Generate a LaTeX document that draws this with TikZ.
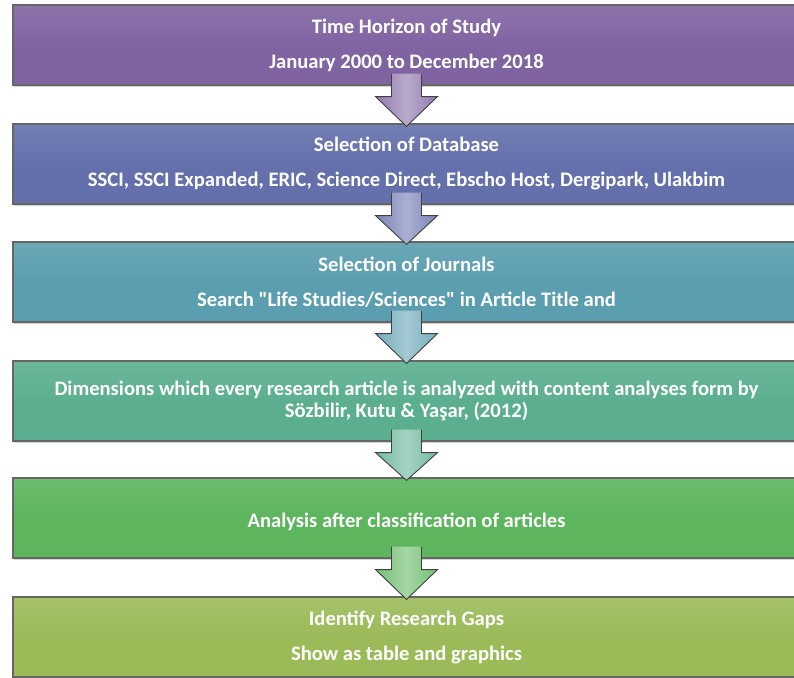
\documentclass[tikz,border=0pt]{standalone}
\usepackage{fontspec}
\setmainfont{Carlito}
\usetikzlibrary{calc,shadows}

\definecolor{stageA}{HTML}{8064A2}
\definecolor{stageB}{HTML}{6470AC}
\definecolor{stageC}{HTML}{5B9EAF}
\definecolor{stageD}{HTML}{5BAF8F}
\definecolor{stageE}{HTML}{5DB55E}
\definecolor{stageF}{HTML}{9BBB59}

\tikzset{
  stagebox/.style={draw=black!60, line width=1.2pt, minimum width=787pt, minimum height=80pt,
    inner sep=0pt, top color=#1!90!white, bottom color=#1, middle color=#1,
    text=white, align=center, font=\bfseries\fontsize{20.6}{22}\selectfont,
    execute at begin node=\rule{0pt}{21.5pt},
    drop shadow={opacity=0.35, shadow xshift=1pt, shadow yshift=-2pt}},
  flowarrow/.style={draw=black!75, line width=0.9pt, left color=#1, right color=#1, middle color=#1!65!white}
}

% block arrow from the bottom of one box to the top of the next
\newcommand{\stagearrow}[3]{%
  \path[flowarrow=#3] let \p1=(#1.south), \p2=(#2.north) in
    (\x1-15pt,\y1+12pt) -- (\x1-15pt,\y1-11pt) -- (\x1-31pt,\y1-11pt) -- (\x1,\y2-3pt)
    -- (\x1+31pt,\y1-11pt) -- (\x1+15pt,\y1-11pt) -- (\x1+15pt,\y1+12pt);
}

\begin{document}
\begin{tikzpicture}[x=1pt, y=-1pt]
  \useasboundingbox (0,0) rectangle (794,677);

  % Stages
  \node[stagebox=stageA] (horizon) at (406.5,45) {Time Horizon of Study\\[13pt]January 2000 to December 2018};
  \node[stagebox=stageB] (database) at (406.5,164) {Selection of Database\\[13pt]SSCI, SSCI Expanded, ERIC, Science Direct, Ebscho Host, Dergipark, Ulakbim};
  \node[stagebox=stageC] (journals) at (406.5,282) {Selection of Journals\\[13pt]Search \textquotedbl Life Studies/Sciences\textquotedbl{} in Article Title and};
  \node[stagebox=stageD] (dimensions) at (406.5,401) {Dimensions which every research article is analyzed with content analyses form by\\Sözbilir, Kutu \& Yaşar, (2012)};
  \node[stagebox=stageE] (analysis) at (406.5,518) {Analysis after classification of articles};
  \node[stagebox=stageF] (gaps) at (406.5,637) {Identify Research Gaps\\[13pt]Show as table and graphics};

  % Arrows
  \stagearrow{horizon}{database}{stageA!85!white}
  \stagearrow{database}{journals}{stageB!85!white}
  \stagearrow{journals}{dimensions}{stageC!85!white}
  \stagearrow{dimensions}{analysis}{stageD!85!white}
  \stagearrow{analysis}{gaps}{stageE!85!white}
\end{tikzpicture}
\end{document}
